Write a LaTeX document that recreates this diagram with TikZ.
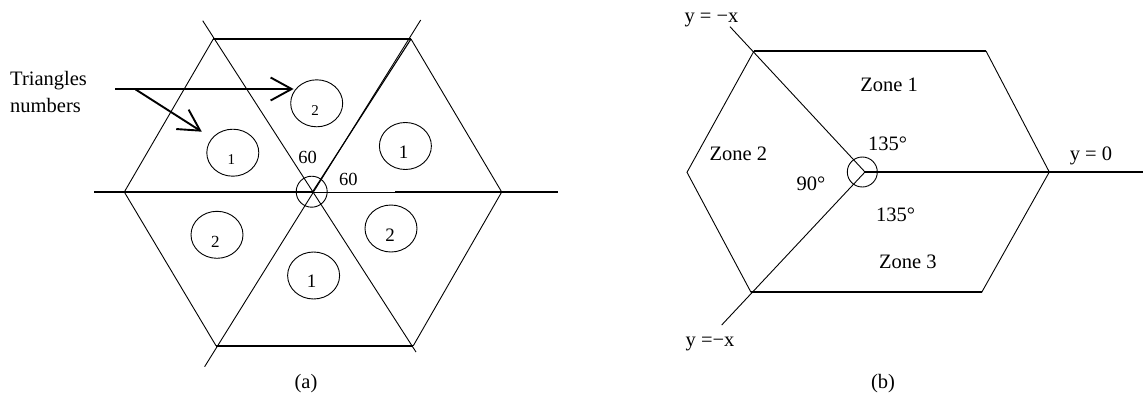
\documentclass[tikz,border=0pt]{standalone}
\usepackage{fontspec}
\setmainfont{Liberation Serif}
\usetikzlibrary{arrows.meta,shapes.geometric}
\begin{document}
\begin{tikzpicture}[x=1pt,y=-1pt,
  thinline/.style={line width=0.9pt},
  midline/.style={line width=1.1pt},
  thickline/.style={line width=1.8pt},
  numring/.style={draw,ellipse,minimum width=52pt,minimum height=47pt,inner sep=0pt,line width=0.9pt},
  hubring/.style={draw,circle,inner sep=0pt,line width=0.9pt},
  pointer/.style={line width=1.9pt,-{Straight Barb[length=21pt,width=23pt]}},
  lbl/.style={font=\fontsize{20.5}{24}\selectfont,inner sep=0pt,anchor=base},
  ang/.style={font=\fontsize{18.5}{22}\selectfont,inner sep=0pt,anchor=base},
  dsmall/.style={font=\fontsize{15}{18}\selectfont,inner sep=0pt},
  dmid/.style={font=\fontsize{17}{20}\selectfont,inner sep=0pt},
  dbig/.style={font=\fontsize{19}{22}\selectfont,inner sep=0pt}]
\useasboundingbox (0,0) rectangle (1143,394);
% ---------- panel (a) ----------
\coordinate (C) at (312.5,192);
\coordinate (L) at (124.3,192);
\coordinate (R) at (501.7,192);
\coordinate (TL) at (213.3,39);
\coordinate (TR) at (411,39);
\coordinate (BL) at (216,345.7);
\coordinate (BR) at (413.3,345.7);
\coordinate (TLe) at (202.7,20.7);
\coordinate (BRe) at (416,352);
\coordinate (TRe) at (420.7,20);
\coordinate (BLe) at (204.6,366.7);
\coordinate (Hl) at (94,192);
\coordinate (Hm) at (395,192);
\coordinate (Hr) at (558,192);
% hexagon sides
\draw[thinline] (TL) -- (L) -- (BL);
\draw[thinline] (TR) -- (R) -- (BR);
\draw[thickline] (TL) -- (TR);
\draw[thickline] (BL) -- (BR);
% diagonals
\draw[thinline] (TLe) -- (BRe);
\draw[thinline] (TRe) -- (BLe);
\draw[midline] (C) -- (TR);
% horizontal axis
\draw[thickline] (Hl) -- (C);
\draw[thinline] (C) -- (Hm);
\draw[thickline] (Hm) -- (Hr);
% centre ring
\node[hubring,minimum size=31pt] (hubA) at (311.7,191.7) {};
\node[ang] (a60u) at (307.5,163.3) {60};
\node[ang] (a60r) at (348.3,185) {60};
% numbered rings
\node[numring] (r1) at (316.7,103.3) {};
\node[numring] (r2) at (232.8,152.7) {};
\node[numring] (r3) at (405.4,146) {};
\node[numring] (r4) at (217,234.8) {};
\node[numring] (r5) at (391,228.5) {};
\node[numring] (r6) at (313.6,275.5) {};
\node[dsmall] (n1) at (315,111) {2};
\node[dsmall] (n2) at (231.4,160) {1};
\node[dbig] (n3) at (403.6,152.7) {1};
\node[dmid] (n4) at (215.4,241.7) {2};
\node[dbig] (n5) at (390,235) {2};
\node[dbig] (n6) at (311.7,281) {1};
% label and arrows
\node[lbl,anchor=base west] (tri1) at (10,85) {Triangles};
\node[lbl,anchor=base west] (tri2) at (10,112.5) {numbers};
\coordinate (s1) at (115,89);
\coordinate (t1) at (293.6,89);
\coordinate (s2) at (135.7,89.5);
\coordinate (t2) at (201.8,131.7);
\draw[pointer] (s1) -- (t1);
\draw[pointer] (s2) -- (t2);
\node[lbl] (capa) at (306,388) {(a)};
% ---------- panel (b) ----------
\coordinate (C2) at (865,172);
\coordinate (TL2) at (754,51);
\coordinate (TR2) at (986,51);
\coordinate (R2) at (1049.3,172);
\coordinate (BR2) at (981.7,292.3);
\coordinate (BL2) at (751,292.3);
\coordinate (L2) at (687,172.3);
\coordinate (E1) at (730,26.7);
\coordinate (E2) at (721.7,325);
\coordinate (H2) at (1143,172);
\draw[thinline] (TL2) -- (L2) -- (BL2);
\draw[thinline] (TR2) -- (R2) -- (BR2);
\draw[thickline] (TL2) -- (TR2);
\draw[thickline] (BL2) -- (BR2);
\draw[thinline] (E1) -- (C2) -- (E2);
\draw[thickline] (C2) -- (H2);
\node[hubring,minimum size=30pt] (hubB) at (862.3,172) {};
\node[lbl] (z1) at (889,91.7) {Zone 1};
\node[lbl] (z2) at (738.3,160.7) {Zone 2};
\node[lbl] (z3) at (907.8,268.3) {Zone 3};
\node[lbl] (b135u) at (887.5,150) {135°};
\node[lbl] (b135l) at (895.5,221) {135°};
\node[lbl] (b90) at (811,190) {90°};
\node[lbl] (eqt) at (711.5,22) {y = −x};
\node[lbl] (eqb) at (710,346.7) {y =−x};
\node[lbl] (eq0) at (1091,160) {y = 0};
\node[lbl] (capb) at (883,388) {(b)};
\end{tikzpicture}
\end{document}
